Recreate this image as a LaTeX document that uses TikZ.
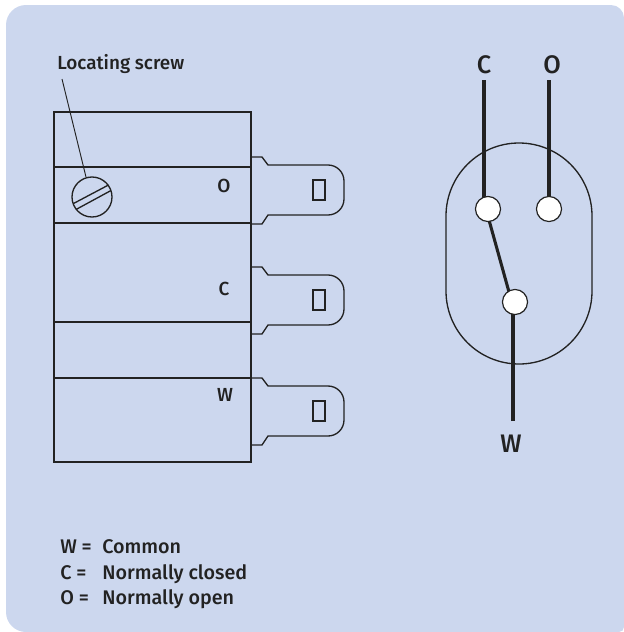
\documentclass[tikz,border=0pt]{standalone}
\usepackage{fontspec}
\setmainfont{Fira Sans Medium}
\definecolor{panel}{HTML}{CCD7EE}
\definecolor{ink}{HTML}{222222}
\tikzset{
  outline/.style={draw=ink,line width=1pt},
  thin line/.style={draw=ink,line width=0.7pt},
  wire/.style={draw=ink,line width=2.3pt},
  contact/.style={circle,draw=ink,fill=white,line width=0.9pt,minimum size=18.8pt,inner sep=0pt},
  small/.style={text=ink,inner sep=0pt,font=\fontsize{14.2pt}{17pt}\selectfont},
  legend/.style={text=ink,inner sep=0pt,font=\fontsize{14.8pt}{17pt}\selectfont},
  big/.style={text=ink,inner sep=0pt,font=\fontsize{19pt}{22pt}\selectfont},
}
\newcommand{\blade}[1]{%
  \begin{scope}[yshift=#1]
    \draw[outline] (251,157) -- (262,157) -- (268,165) -- (328,165)
      arc[start angle=-90,end angle=0,radius=16] -- (344,199)
      arc[start angle=0,end angle=90,radius=16] -- (268,215) -- (262,224) -- (251,224);
    \draw[outline] (313,180) rectangle (325,200);
  \end{scope}}
\begin{document}
\begin{tikzpicture}[x=0.75pt,y=-0.75pt]
\useasboundingbox (0,0) rectangle (624,632);
\fill[panel] (6,25) arc[start angle=180,end angle=270,radius=20] -- (611,5)
  arc[start angle=-90,end angle=0,radius=13] -- (624,627)
  arc[start angle=0,end angle=90,radius=5] -- (26,632)
  arc[start angle=90,end angle=180,radius=20] -- cycle;
% body
\draw[outline] (54,112) rectangle (251,462);
\draw[outline] (54,167) -- (251,167);
\draw[outline] (54,223) -- (251,223);
\draw[outline] (54,322) -- (251,322);
\draw[outline] (54,378) -- (251,378);
\blade{0pt}
\blade{-82.5pt}
\blade{-165.75pt}
\draw[ink,line width=1.5pt] (251,157) -- (251,224) (251,267) -- (251,334) (251,378) -- (251,445);
% screw
\node[circle,draw=ink,line width=1pt,minimum size=30pt,inner sep=0pt] (screw) at (92,197) {};
\draw[outline] (73.5,203.5) -- (108.5,185);
\draw[outline] (76,209.5) -- (111,190.5);
\node[small,anchor=base west] (loc) at (57,69) {Locating screw};
\coordinate (locend) at (62,79);
\coordinate (locscrew) at (86,177);
\draw[thin line] (locend) -- (locscrew);
% terminal letters
\node[small,anchor=base] (tO) at (224,192) {O};
\node[small,anchor=base] (tC) at (224,295) {C};
\node[small,anchor=base] (tW) at (225,401) {W};
% switch symbol
\draw[outline] (446,216) arc[start angle=180,end angle=360,radius=73] -- (592,291)
  arc[start angle=0,end angle=180,radius=73] -- cycle;
\node[big,anchor=base] (lC) at (484,73) {C};
\node[big,anchor=base] (lO) at (552,73) {O};
\node[big,anchor=base] (lW) at (511,452) {W};
\coordinate (topC) at (484,80);
\coordinate (topO) at (549,80);
\coordinate (botW) at (513,421);
\coordinate (armC) at (489,220);
\coordinate (armW) at (509,292);
\draw[wire] (topC) -- (484,200);
\draw[wire] (topO) -- (549,200);
\draw[wire] (armC) -- (armW);
\draw[wire] (botW) -- (513,310);
\node[contact] (cC) at (488,209) {};
\node[contact] (cO) at (549,209) {};
\node[contact] (cW) at (515,302) {};
% legend
\node[legend,anchor=base west] (k1) at (60,553) {W =};
\node[legend,anchor=base west] (k1b) at (102,553) {Common};
\node[legend,anchor=base west] (k2) at (60,579) {C =};
\node[legend,anchor=base west] (k2b) at (102,579) {Normally closed};
\node[legend,anchor=base west] (k3) at (60,604) {O =};
\node[legend,anchor=base west] (k3b) at (102,604) {Normally open};
\end{tikzpicture}
\end{document}
